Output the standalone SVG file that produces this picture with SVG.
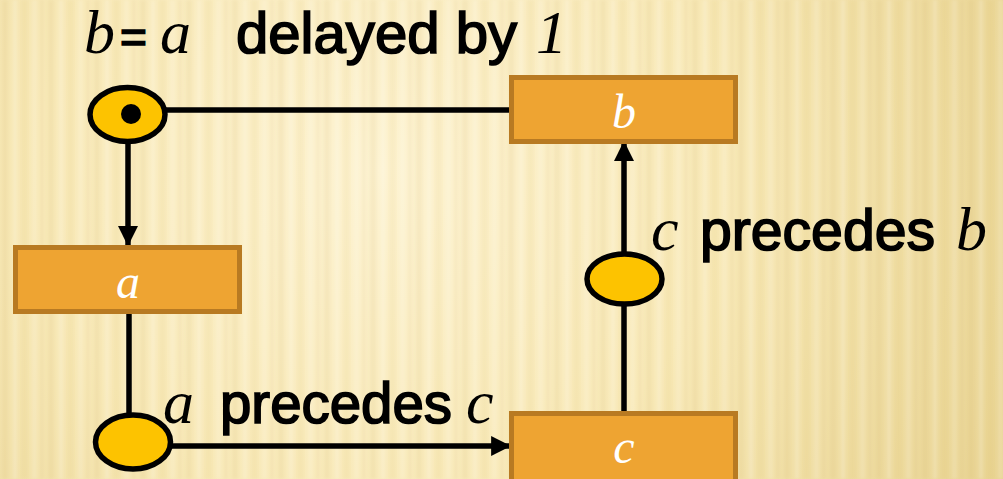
<svg xmlns="http://www.w3.org/2000/svg" width="1003" height="479" viewBox="0 0 1003 479">
  <defs>
    <radialGradient id="bgGrad" cx="380" cy="170" r="760" gradientUnits="userSpaceOnUse">
      <stop offset="0" stop-color="#fdf3d2"/>
      <stop offset="0.45" stop-color="#f8e9b8"/>
      <stop offset="1" stop-color="#e6d08c"/>
    </radialGradient>
    <pattern id="stripes" x="0" y="0" width="46" height="479" patternUnits="userSpaceOnUse">
      <rect x="2" y="0" width="6" height="479" fill="#c8a450" opacity="0.10"/>
      <rect x="13" y="0" width="4" height="479" fill="#ffffff" opacity="0.18"/>
      <rect x="21" y="0" width="7" height="479" fill="#c8a450" opacity="0.08"/>
      <rect x="32" y="0" width="5" height="479" fill="#ffffff" opacity="0.14"/>
      <rect x="40" y="0" width="4" height="479" fill="#c8a450" opacity="0.07"/>
    </pattern>
    <filter id="soft" x="-5%" y="-5%" width="110%" height="110%">
      <feGaussianBlur stdDeviation="1.5"/>
    </filter>
    <marker id="arrow" markerUnits="userSpaceOnUse" markerWidth="20" markerHeight="20"
            viewBox="0 0 18 18" refX="17" refY="9" orient="auto">
      <path d="M0,0 L18,9 L0,18 Z" fill="#000"/>
    </marker>
    <style>
      .box { fill: #eea432; stroke: #b87a22; stroke-width: 5; }
      .place { fill: #fdc300; stroke: #000; stroke-width: 5.5; }
      .wire { fill: none; stroke: #000; stroke-width: 5.5; }
      .var { font-family: "Liberation Serif", "Times New Roman", serif; font-style: italic; stroke: none; }
      .lbl { font-family: "Liberation Sans", Arial, sans-serif; font-weight: normal; stroke: #000; stroke-width: 1.7; }
      .boxText { fill: #fff; font-size: 48px; text-anchor: middle; }
    </style>
  </defs>

  <!-- background -->
  <rect x="0" y="0" width="1003" height="479" fill="url(#bgGrad)"/>
  <rect x="0" y="0" width="1003" height="479" fill="url(#stripes)" filter="url(#soft)"/>

  <!-- connectors -->
  <g id="connectors">
    <line class="wire" x1="165" y1="110" x2="512" y2="110"/>
    <line class="wire" x1="128" y1="142" x2="128" y2="245" marker-end="url(#arrow)"/>
    <line class="wire" x1="129" y1="312" x2="129" y2="414"/>
    <line class="wire" x1="171" y1="446" x2="510" y2="446" marker-end="url(#arrow)"/>
    <line class="wire" x1="624" y1="411" x2="624" y2="306"/>
    <line class="wire" x1="624" y1="252" x2="624" y2="142" marker-end="url(#arrow)"/>
  </g>

  <!-- delay place with token -->
  <g id="delay">
    <ellipse class="place" cx="127.5" cy="114.5" rx="37.5" ry="27"/>
    <circle cx="131" cy="114" r="10" fill="#000"/>
  </g>

  <g id="node-b">
    <rect class="box" x="511.5" y="77.5" width="224" height="64"/>
    <text class="var boxText" x="624" y="128">b</text>
  </g>

  <g id="node-a">
    <rect class="box" x="15.5" y="247.5" width="224" height="64"/>
    <text class="var boxText" x="128" y="298">a</text>
  </g>

  <g id="node-c">
    <rect class="box" x="511.5" y="413.5" width="224" height="70"/>
    <text class="var boxText" x="624" y="463">c</text>
  </g>

  <g id="place-ac">
    <ellipse class="place" cx="133" cy="442" rx="37.5" ry="27"/>
  </g>

  <g id="place-cb">
    <ellipse class="place" cx="624.5" cy="279" rx="37.5" ry="25"/>
  </g>

  <!-- labels -->
  <g id="labels" fill="#000">
    <text y="53" font-size="58">
      <tspan class="var" x="84" font-size="62">b</tspan><tspan class="lbl" x="120" font-size="46">=</tspan><tspan class="var" x="160" font-size="62">a</tspan><tspan class="lbl" x="236" textLength="281" lengthAdjust="spacingAndGlyphs">delayed by</tspan><tspan class="var" x="536" font-size="62">1</tspan>
    </text>
    <text y="250" font-size="58">
      <tspan class="var" x="651" font-size="62">c</tspan><tspan class="lbl" x="700" textLength="235" lengthAdjust="spacingAndGlyphs">precedes</tspan><tspan class="var" x="956" font-size="62">b</tspan>
    </text>
    <text y="423" font-size="58">
      <tspan class="var" x="163" font-size="62">a</tspan><tspan class="lbl" x="220" textLength="232" lengthAdjust="spacingAndGlyphs">precedes</tspan><tspan class="var" x="466" font-size="62">c</tspan>
    </text>
  </g>
</svg>
